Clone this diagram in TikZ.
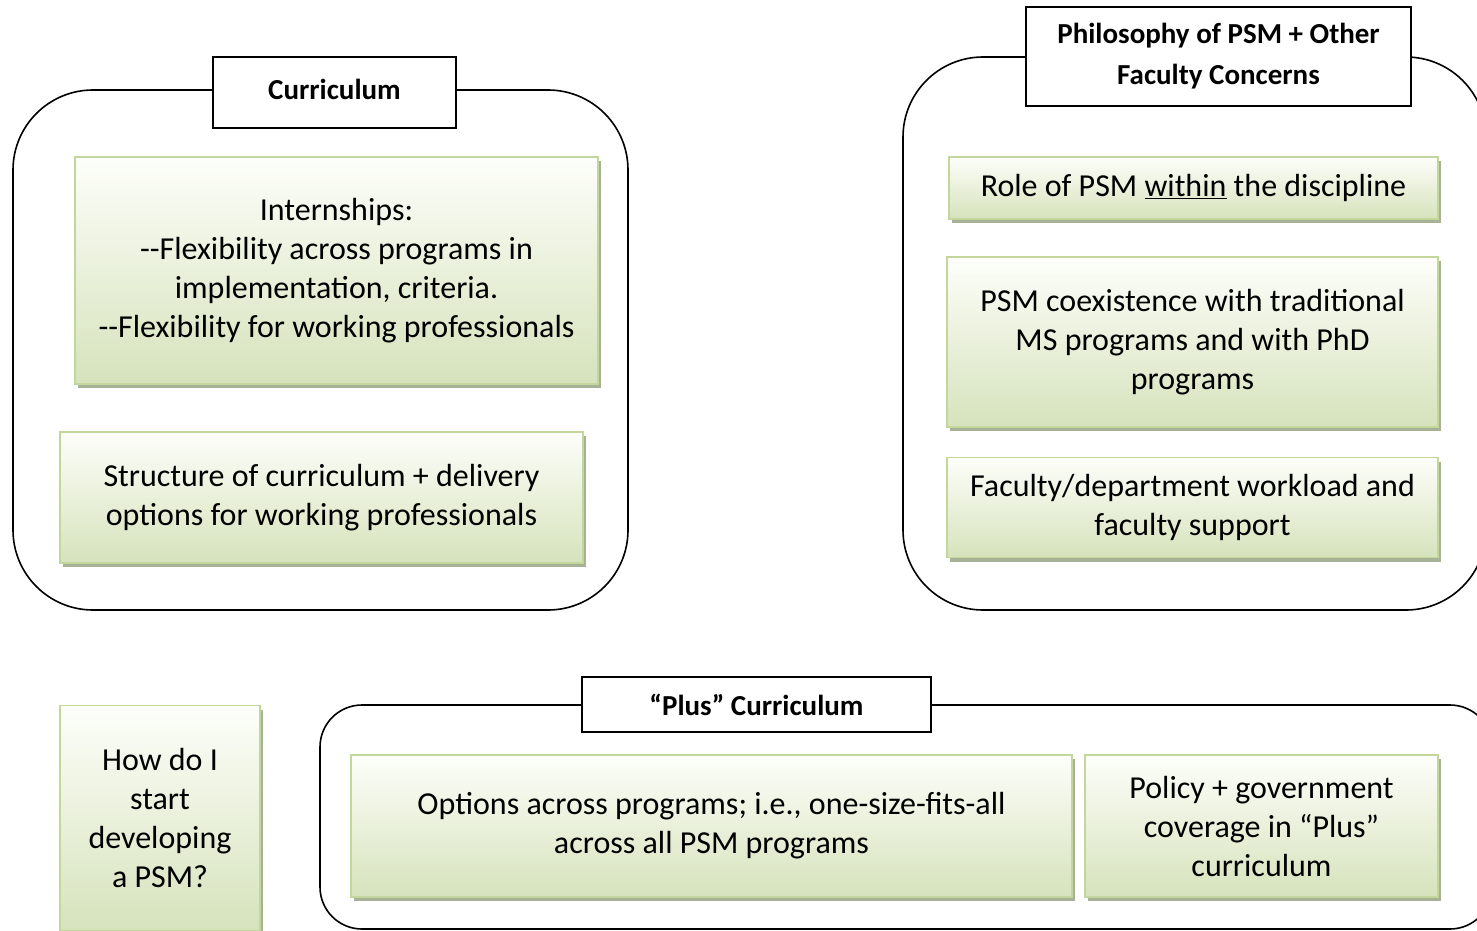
\documentclass[tikz,border=0pt]{standalone}
\usepackage{fontspec}
\setmainfont{Carlito}
\usetikzlibrary{shadows}
\definecolor{boxtop}{HTML}{FDFEFA}
\definecolor{boxbot}{HTML}{D6E3BC}
\definecolor{boxline}{HTML}{C3D69B}
\definecolor{shcol}{HTML}{9DA889}
\newcommand{\bodyfont}{\fontsize{32}{39}\selectfont}
\newcommand{\headfont}{\fontsize{29}{41}\selectfont\bfseries}
\tikzset{
  greenbox/.style={draw=boxline, line width=1.8pt, top color=boxtop, bottom color=boxbot,
    align=center, inner sep=0pt, font=\bodyfont,
    drop shadow={shadow xshift=3pt, shadow yshift=-4pt, fill=shcol, opacity=0.9}},
  group/.style={draw=black, line width=1.6pt},
  headbox/.style={draw=black, line width=1.6pt, fill=white, align=center, inner sep=0pt, font=\headfont},
}
\begin{document}
\begin{tikzpicture}[x=1pt,y=-1pt]
\useasboundingbox (0,0) rectangle (1477,931);
\clip (0,0) rectangle (1477,931);
% groups
\draw[group, rounded corners=80pt] (13,90) rectangle (628,610);
\draw[group, rounded corners=80pt] (903,57) rectangle (1486,610);
\draw[group, rounded corners=42pt] (320,705) rectangle (1492,929);
% headers
\node[headbox, minimum width=243pt, minimum height=71pt] (hcur) at (334.5,92.5) {\raisebox{6pt}{Curriculum}};
\node[headbox, minimum width=385pt, minimum height=99pt] (hphil) at (1218.5,56.5) {Philosophy of PSM + Other\\Faculty Concerns};
\node[headbox, minimum width=349pt, minimum height=55pt] (hplus) at (756.5,704.5) {“Plus” Curriculum};
% curriculum boxes
\node[greenbox, minimum width=523pt, minimum height=227pt] (intern) at (336.5,270.5)
  {Internships:\\-{}-Flexibility across programs in\\implementation, criteria.\\-{}-Flexibility for working professionals};
\node[greenbox, minimum width=523pt, minimum height=131pt] (struct) at (321.5,497.5)
  {Structure of curriculum + delivery\\options for working professionals};
% philosophy boxes
\node[greenbox, minimum width=489pt, minimum height=62pt] (role) at (1193.5,188)
  {Role of PSM \underline{within} the discipline};
\node[greenbox, minimum width=491pt, minimum height=170pt] (coex) at (1192.5,342)
  {PSM coexistence with traditional\\MS programs and with PhD\\programs};
\node[greenbox, minimum width=491pt, minimum height=100pt] (work) at (1192.5,507.5)
  {Faculty/department workload and\\faculty support};
% bottom
\node[greenbox, minimum width=200pt, minimum height=225pt] (how) at (160,818)
  {How do I\\start\\developing\\a PSM?};
\node[greenbox, minimum width=721pt, minimum height=142pt] (opt) at (711.5,826)
  {Options across programs; i.e., one-size-fits-all\\across all PSM programs};
\node[greenbox, minimum width=353pt, minimum height=142pt] (pol) at (1261.5,826)
  {Policy + government\\coverage in “Plus”\\curriculum};
\end{tikzpicture}
\end{document}
